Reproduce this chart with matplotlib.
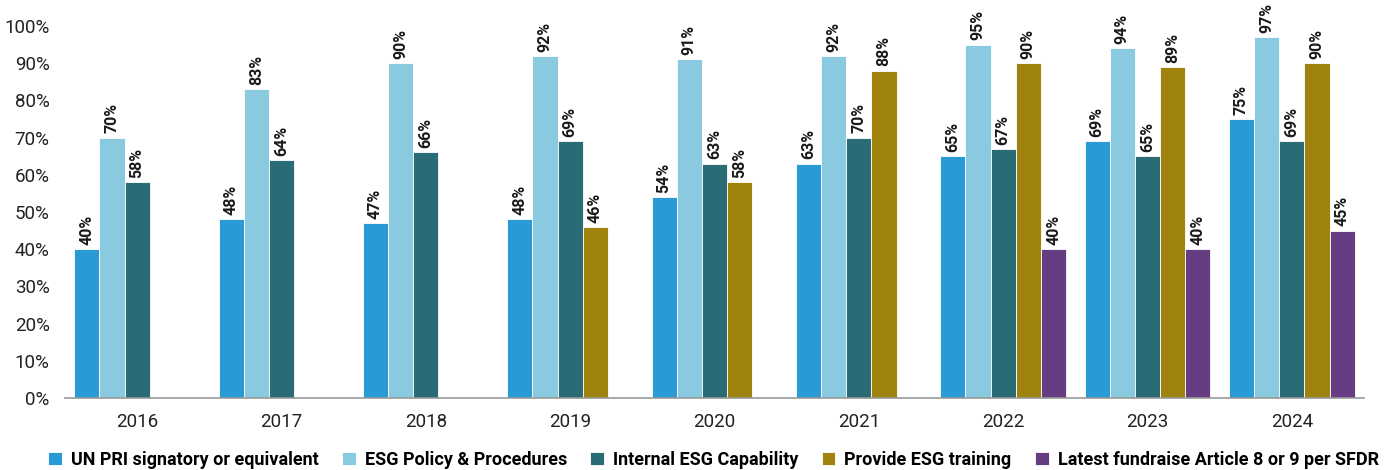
import matplotlib.pyplot as plt
import numpy as np

plt.rcParams['font.family'] = ['Roboto', 'DejaVu Sans']

# data
years = ['2016', '2017', '2018', '2019', '2020', '2021', '2022', '2023', '2024']
un_pri = [40, 48, 47, 48, 54, 63, 65, 69, 75]
esg_policy = [70, 83, 90, 92, 91, 92, 95, 94, 97]
internal_esg = [58, 64, 66, 69, 63, 70, 67, 65, 69]
esg_training = [None, None, None, 46, 58, 88, 90, 89, 90]
sfdr = [None, None, None, None, None, None, 40, 40, 45]

series_names = ['UN PRI signatory or equivalent', 'ESG Policy & Procedures',
                'Internal ESG Capability', 'Provide ESG training',
                'Latest fundraise Article 8 or 9 per SFDR']
colors = ['#2A9AD4', '#89CAE0', '#2A6C75', '#A0820E', '#663D82']
all_series = [un_pri, esg_policy, internal_esg, esg_training, sfdr]

fig = plt.figure(figsize=(13.99, 4.70), dpi=100)
ax = fig.add_axes([65/1399, 72/470, 1299/1399, 372/470])

x = np.arange(len(years))
w = 0.1745

handles = []
for j, (vals, name, col) in enumerate(zip(all_series, series_names, colors)):
    xs = [x[i] + (j - 2) * w for i, v in enumerate(vals) if v is not None]
    hs = [v for v in vals if v is not None]
    b = ax.bar(xs, hs, width=w, color=col, edgecolor='white', linewidth=0.6, label=name)
    handles.append(b)
    for xx, hh in zip(xs, hs):
        ax.annotate(f'{hh}%', (xx, hh), xytext=(0, 3), textcoords='offset points',
                    rotation=90, ha='center', va='bottom', fontsize=11.5,
                    fontweight='bold', color='#1a1a1a', annotation_clip=False)

ax.set_xlim(-0.5, 8.5)
ax.set_ylim(0, 100)
ax.set_yticks(np.arange(0, 101, 10))
ax.set_yticklabels([f'{v}%' for v in range(0, 101, 10)], fontsize=13.5, color='#222222')
ax.set_xticks(x)
ax.set_xticklabels(years, fontsize=13.5, color='#222222')
ax.tick_params(axis='both', length=0)
ax.tick_params(axis='x', pad=11)
ax.tick_params(axis='y', pad=11)
for s in ['top', 'right', 'left']:
    ax.spines[s].set_visible(False)
ax.spines['bottom'].set_color('#999999')
ax.spines['bottom'].set_linewidth(1.2)

fig.legend(handles=handles, loc='center', bbox_to_anchor=(0.51, 10/470), ncol=5,
           frameon=False, handlelength=0.75, handleheight=0.75,
           handletextpad=0.5, columnspacing=1.3, borderaxespad=0,
           prop={'weight': 'bold', 'size': 13})

fig.savefig('out.png', dpi=100)
